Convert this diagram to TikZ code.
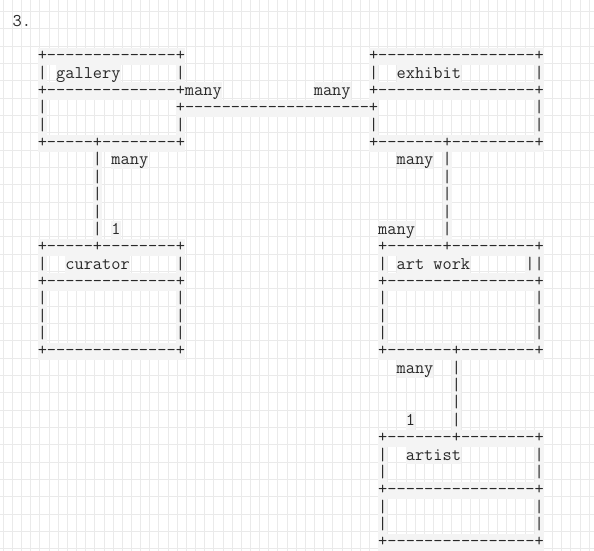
\documentclass[tikz,border=0pt]{standalone}
\usepackage{fontspec}
\newfontfamily\asc{Latin Modern Mono}
\definecolor{gridc}{RGB}{234,234,234}
\definecolor{bandc}{RGB}{244,244,244}
\definecolor{inkc}{RGB}{40,40,40}
\newlength\chw
\ExplSyntaxOn
\NewDocumentCommand\dsh{m}{\prg_replicate:nn{#1}{-}}
\ExplSyntaxOff
% segment of the ASCII picture: column, line, text
\newcommand\sg[3]{\node[seg] (r#2c#1) at ({1.0+9.2*#1},{26.05+17.36*#2}) {#3};}
\begin{document}
\settowidth{\chw}{\asc\fontsize{13pt}{13pt}\selectfont 0}%
\pgfmathsetmacro\fsz{13*6.9/\chw}%
\begin{tikzpicture}[x=0.75pt,y=-0.75pt]
\tikzset{
  seg/.style={anchor=base west, inner sep=0pt, outer sep=0pt, fill=bandc,
    text=inkc, text height=9.8pt, text depth=3.22pt,
    font=\asc\fontsize{\fsz pt}{\fsz pt}\selectfont},
  plain/.style={seg, fill=none},
  gridl/.style={draw=gridc, line width=0.75pt}
}
\fill[white] (0,0) rectangle (594,551);
\useasboundingbox (0,0) rectangle (594,551);
\foreach \i in {0,...,64} \draw[gridl] ({3.3+9.155*\i},0) -- ({3.3+9.155*\i},551);
\foreach \j in {0,...,31} \draw[gridl] (0,{11.6+17.335*\j}) -- (594,{11.6+17.335*\j});
% line 0
\node[plain] (num) at (12.6,26.05) {3.};
% gallery / exhibit
\sg{4}{2}{+\dsh{14}+} \sg{40}{2}{+\dsh{17}+}
\sg{4}{3}{|} \sg{6}{3}{gallery} \sg{19}{3}{|} \sg{40}{3}{|} \sg{43}{3}{exhibit} \sg{58}{3}{|}
\sg{4}{4}{+\dsh{14}+many} \sg{34}{4}{many} \sg{40}{4}{+\dsh{17}+}
\sg{4}{5}{|} \sg{19}{5}{+\dsh{20}+} \sg{58}{5}{|}
\sg{4}{6}{|} \sg{19}{6}{|} \sg{40}{6}{|} \sg{58}{6}{|}
\sg{4}{7}{+\dsh{5}+\dsh{8}+} \sg{40}{7}{+\dsh{7}+\dsh{9}+}
% links down
\sg{10}{8}{|} \sg{12}{8}{many} \sg{43}{8}{many} \sg{48}{8}{|}
\sg{10}{9}{|} \sg{48}{9}{|}
\sg{10}{10}{|} \sg{48}{10}{|}
\sg{10}{11}{|} \sg{48}{11}{|}
\sg{10}{12}{|} \sg{12}{12}{1} \sg{41}{12}{many} \sg{48}{12}{|}
% curator / art work
\sg{4}{13}{+\dsh{5}+\dsh{8}+} \sg{41}{13}{+\dsh{6}+\dsh{9}+}
\sg{4}{14}{|} \sg{7}{14}{curator} \sg{19}{14}{|} \sg{41}{14}{|} \sg{43}{14}{art work} \sg{57}{14}{||}
\sg{4}{15}{+\dsh{14}+} \sg{41}{15}{+\dsh{16}+}
\sg{4}{16}{|} \sg{19}{16}{|} \sg{41}{16}{|} \sg{58}{16}{|}
\sg{4}{17}{|} \sg{19}{17}{|} \sg{41}{17}{|} \sg{58}{17}{|}
\sg{4}{18}{|} \sg{19}{18}{|} \sg{41}{18}{|} \sg{58}{18}{|}
\sg{4}{19}{+\dsh{14}+} \sg{41}{19}{+\dsh{7}+\dsh{8}+}
% link to artist
\sg{43}{20}{many} \sg{49}{20}{|}
\sg{49}{21}{|}
\sg{49}{22}{|}
\sg{44}{23}{1} \sg{49}{23}{|}
% artist
\sg{41}{24}{+\dsh{7}+\dsh{8}+}
\sg{41}{25}{|} \sg{44}{25}{artist} \sg{58}{25}{|}
\sg{41}{26}{|} \sg{58}{26}{|}
\sg{41}{27}{+\dsh{16}+}
\sg{41}{28}{|} \sg{58}{28}{|}
\sg{41}{29}{|} \sg{58}{29}{|}
\sg{41}{30}{+\dsh{16}+}
\end{tikzpicture}
\end{document}
